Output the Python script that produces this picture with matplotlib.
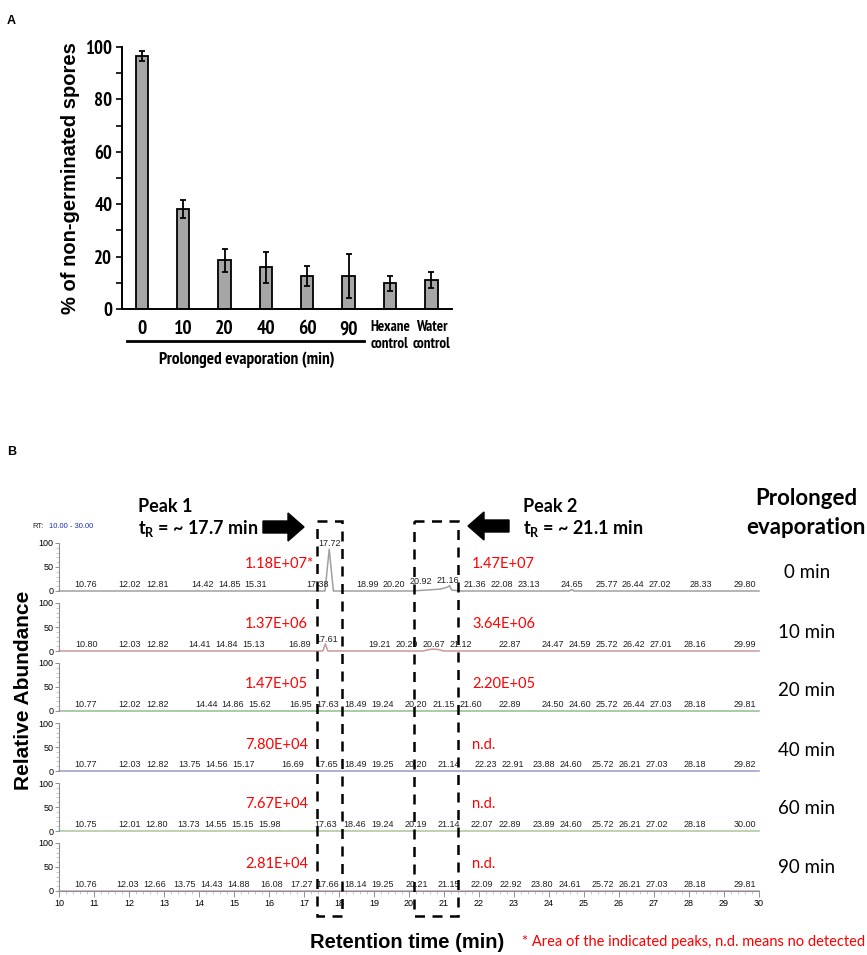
import matplotlib
matplotlib.use('Agg')
import matplotlib.pyplot as plt
from matplotlib import font_manager
from matplotlib.font_manager import FontProperties
from matplotlib.patches import Rectangle, FancyArrow
from matplotlib.ticker import MultipleLocator

plt.rcParams['mathtext.fontset'] = 'custom'
plt.rcParams['mathtext.bf'] = 'Lato:bold'
plt.rcParams['mathtext.rm'] = 'Lato'

W, H = 867, 955

# ---- panel A data ----
groups = ['0', '10', '20', '40', '60', '90', 'Hexane\ncontrol', 'Water\ncontrol']
pct_nongerm = [96.4, 38.1, 18.6, 15.9, 12.7, 12.7, 9.8, 11.2]
pct_err = [1.9, 3.5, 4.3, 5.8, 3.9, 8.4, 2.8, 3.1]

# ---- panel B data (chromatograms) ----
row_names = ['0 min', '10 min', '20 min', '40 min', '60 min', '90 min']
peak1_area = ['1.18E+07*', '1.37E+06', '1.47E+05', '7.80E+04', '7.67E+04', '2.81E+04']
peak2_area = ['1.47E+07', '3.64E+06', '2.20E+05', 'n.d.', 'n.d.', 'n.d.']

trace_rt = [
    [10.0, 17.60, 17.72, 17.84, 20.10, 20.90, 21.10, 21.16, 21.22, 21.50, 24.58, 24.65, 24.72, 30.0],
    [10.0, 17.54, 17.61, 17.68, 20.40, 20.58, 20.67, 20.85, 20.98, 30.0],
    [10.0, 30.0],
    [10.0, 30.0],
    [10.0, 30.0],
    [10.0, 30.0],
]
trace_ab = [
    [0, 0, 87, 0, 0, 4, 8, 11, 2, 0, 0, 3, 0, 0],
    [0, 0, 15, 0, 0, 3, 4, 3, 0, 0],
    [0, 0],
    [0, 0],
    [0, 0],
    [0, 0],
]
trace_colors = ['#a0a0a0', '#c99a9a', '#8fbf8f', '#9a9acc', '#a8c89a', '#c4a4c4']

peak_labels = [
    ['10.76', '12.02', '12.81', '14.42', '14.85', '15.31', '17.38', '17.72', '18.99', '20.20', '20.92',
     '21.16', '21.36', '22.08', '23.13', '24.65', '25.77', '26.44', '27.02', '28.33', '29.80'],
    ['10.80', '12.03', '12.82', '14.41', '14.84', '15.13', '16.89', '17.61', '19.21', '20.29', '20.67',
     '21.12', '22.87', '24.47', '24.59', '25.72', '26.42', '27.01', '28.16', '29.99'],
    ['10.77', '12.02', '12.82', '14.44', '14.86', '15.62', '16.95', '17.63', '18.49', '19.24', '20.20',
     '21.15', '21.60', '22.89', '24.50', '24.60', '25.72', '26.44', '27.03', '28.18', '29.81'],
    ['10.77', '12.03', '12.82', '13.75', '14.56', '15.17', '16.69', '17.65', '18.49', '19.25', '20.20',
     '21.14', '22.23', '22.91', '23.88', '24.60', '25.72', '26.21', '27.03', '28.18', '29.82'],
    ['10.75', '12.01', '12.80', '13.73', '14.55', '15.15', '15.98', '17.63', '18.46', '19.24', '20.19',
     '21.14', '22.07', '22.89', '23.89', '24.60', '25.72', '26.21', '27.02', '28.18', '30.00'],
    ['10.76', '12.03', '12.66', '13.75', '14.43', '14.88', '16.08', '17.27', '17.66', '18.14', '19.25',
     '20.21', '21.15', '22.09', '22.92', '23.80', '24.61', '25.72', '26.21', '27.03', '28.18', '29.81'],
]
# labels drawn at the top of a peak instead of on the baseline row
apex_labels = {(0, '17.72'): 89}
raised_labels = {(1, '17.61'): 14, (0, '20.92'): 10, (0, '21.16'): 12}


def box(l, t, r, b):
    return [l / W, 1 - b / H, (r - l) / W, (b - t) / H]


def spread(xs, gap, lo, hi):
    # push neighbouring labels apart so they do not overlap (like the instrument software does)
    xs = list(xs)
    for _ in range(400):
        moved = False
        for j in range(len(xs) - 1):
            d = xs[j + 1] - xs[j]
            if d < gap - 1e-6:
                s = (gap - d) / 2
                xs[j] -= s
                xs[j + 1] += s
                moved = True
        xs = [min(max(v, lo), hi) for v in xs]
        if not moved:
            break
    return xs


# pick the narrowest sensible bold face for panel A (reference uses Arial Narrow Bold)
def cond_rank(f):
    key = (f.fname + ' ' + f.name).replace(' ', '').lower()
    if 'italic' in key or 'oblique' in key:
        return None
    if f.weight not in (700, 'bold'):
        return None
    if 'narrow' in key:
        return 0
    if 'semicondensed' in key or 'semicond' in key:
        return 3
    if 'extracondensed' in key or 'ultracondensed' in key:
        return 2
    if 'condensed' in key:
        return 1
    return None


cands = [(cond_rank(f), f.fname) for f in font_manager.fontManager.ttflist if cond_rank(f) is not None]
cands.sort()
if cands:
    mk = lambda s: FontProperties(fname=cands[0][1], size=s)
else:
    mk = lambda s: FontProperties(family='Liberation Sans', weight='bold', size=s)
fp_tick = mk(13)
fp_num = mk(13)
fp_ctrl = mk(12.5)
fp_title = mk(13.5)

fig = plt.figure(figsize=(W / 100, H / 100), dpi=100)
renderer = fig.canvas.get_renderer()


def fit_width(fp, sample, target_px, max_pt):
    t = fig.text(0, 0, sample, fontproperties=fp)
    w = t.get_window_extent(renderer).width
    t.remove()
    fp.set_size(min(max_pt, fp.get_size() * target_px / w))


fit_width(fp_tick, '100', 27, 14)
fit_width(fp_num, '100', 28, 14)
fit_width(fp_ctrl, 'Hexane', 40, 13)
fit_width(fp_title, 'Prolonged evaporation (min)', 176, 14)

arial = ['Liberation Sans', 'DejaVu Sans']
cal = ['Lato', 'DejaVu Sans']

# ================= Panel A =================
axA = fig.add_axes(box(122, 47, 452, 309))
xpos = list(range(len(groups)))
axA.bar(xpos, pct_nongerm, width=0.3, color='#a6a6a6', edgecolor='black', linewidth=1.3,
        yerr=pct_err, capsize=2.2, error_kw=dict(elinewidth=1.3, capthick=1.3, ecolor='black'))
axA.set_xlim(-0.48, 7.5)
axA.set_ylim(0, 100)
for s in ['top', 'right']:
    axA.spines[s].set_visible(False)
axA.spines['left'].set_linewidth(1.4)
axA.spines['bottom'].set_linewidth(1.4)
axA.yaxis.set_major_locator(MultipleLocator(20))
axA.yaxis.set_minor_locator(MultipleLocator(10))
axA.tick_params(axis='y', which='both', direction='out', length=4, width=1.2, pad=3)
axA.tick_params(axis='x', length=0, pad=8)
axA.set_xticks(xpos)
axA.set_xticklabels(groups, linespacing=1.25)
for lab, g in zip(axA.get_xticklabels(), groups):
    lab.set_fontproperties(fp_ctrl if '\n' in g else fp_num)
axA.set_yticks([0, 20, 40, 60, 80, 100])
axA.set_yticklabels(['0', '20', '40', '60', '80', '100'], fontproperties=fp_tick)
axA.set_ylabel('% of non-germinated spores', family=arial, fontweight='bold', fontsize=14.5, va='center')
axA.yaxis.set_label_coords(-0.155, 0.5)
tr = axA.get_xaxis_transform()
axA.plot([-0.36, 5.37], [-0.122, -0.122], color='black', lw=2, transform=tr, clip_on=False)
axA.text(2.54, -0.195, 'Prolonged evaporation (min)', transform=tr, ha='center', va='center',
         fontproperties=fp_title)

# ================= Panel B =================
zero_px = [591, 651, 711, 771, 831, 891]
for i in range(6):
    ax = fig.add_axes(box(59, zero_px[i] - 48, 759, zero_px[i]))
    ax.patch.set_alpha(0)
    ax.plot(trace_rt[i], trace_ab[i], color=trace_colors[i], lw=1.1, clip_on=False)
    ax.set_xlim(10, 30)
    ax.set_ylim(0, 100)
    for s in ['top', 'right']:
        ax.spines[s].set_visible(False)
    ax.spines['left'].set_color('#909090')
    ax.spines['left'].set_linewidth(0.8)
    ax.set_yticks([0, 50, 100])
    ax.set_yticklabels(['0', '50', '100'], family=arial, fontsize=6.5)
    ax.yaxis.set_minor_locator(MultipleLocator(10))
    ax.tick_params(axis='y', which='major', length=3, width=0.7, color='#909090', pad=1)
    ax.tick_params(axis='y', which='minor', length=2, width=0.5, color='#b0b0b0')
    if i < 5:
        ax.spines['bottom'].set_visible(False)
        ax.set_xticks([])
    else:
        ax.spines['bottom'].set_color('#909090')
        ax.spines['bottom'].set_linewidth(0.8)
        ax.xaxis.set_major_locator(MultipleLocator(1))
        ax.xaxis.set_minor_locator(MultipleLocator(0.2))
        ax.tick_params(axis='x', which='major', length=4, width=0.7, color='#909090', pad=2,
                       labelsize=6.5)
        ax.tick_params(axis='x', which='minor', length=2, width=0.5, color='#b0b0b0')
        for lab in ax.get_xticklabels():
            lab.set_family(arial)
    base = [lab for lab in peak_labels[i] if (i, lab) not in apex_labels]
    xs = spread([float(lab) for lab in base], 0.77, 10.3, 29.6)
    for lab, xv in zip(base, xs):
        yv = raised_labels.get((i, lab), 5)
        ax.text(xv, yv, lab, ha='center', va='bottom', fontsize=6.5, family=arial,
                color='#202020', clip_on=False)
    for (ri, lab), yv in apex_labels.items():
        if ri == i:
            ax.text(float(lab), yv, lab, ha='center', va='bottom', fontsize=6.5, family=arial,
                    color='#202020', clip_on=False)

# ---- overlay in pixel coordinates ----
ov = fig.add_axes([0, 0, 1, 1])
ov.set_xlim(0, W)
ov.set_ylim(H, 0)
ov.axis('off')
ov.patch.set_alpha(0)

ov.text(7, 21, 'A', family=arial, fontweight='bold', fontsize=9, va='center', ha='left')
ov.text(7, 452, 'B', family=arial, fontweight='bold', fontsize=9, va='center', ha='left')

ov.text(32, 526, 'RT:', family=arial, fontsize=5.5, va='center', ha='left', color='#202020')
ov.text(49, 526, '10.00 - 30.00', family=arial, fontsize=5.5, va='center', ha='left', color='#1f2fa8')

ov.text(138, 506, 'Peak 1', family=cal, fontweight='bold', fontsize=13, va='center', ha='left')
ov.text(138, 528, r'$\mathbf{t_R}$ = ~ 17.7 min', family=cal, fontweight='bold', fontsize=13,
        va='center', ha='left')
ov.text(523, 506, 'Peak 2', family=cal, fontweight='bold', fontsize=13, va='center', ha='left')
ov.text(523, 528, r'$\mathbf{t_R}$ = ~ 21.1 min', family=cal, fontweight='bold', fontsize=13,
        va='center', ha='left')

ov.add_patch(FancyArrow(263, 527, 25, 0, width=12, head_width=28, head_length=16,
                        length_includes_head=False, color='black'))
ov.add_patch(FancyArrow(509, 526, -25, 0, width=12, head_width=28, head_length=16,
                        length_includes_head=False, color='black'))

dash = (0, (4, 3))
ov.add_patch(Rectangle((317, 521), 25, 395, fill=False, lw=1.8, ls=dash, ec='black'))
ov.add_patch(Rectangle((414, 521), 44, 395, fill=False, lw=1.8, ls=dash, ec='black'))

ov.text(806, 498, 'Prolonged', family=cal, fontweight='bold', fontsize=16, va='center', ha='center')
ov.text(806, 527, 'evaporation', family=cal, fontweight='bold', fontsize=16, va='center', ha='center')

row_label_y = [572, 632, 690, 750, 808, 867]
red_y = [564, 624, 684, 745, 804, 864]
for i in range(6):
    ov.text(807, row_label_y[i], row_names[i], family=cal, fontsize=13.5, va='center', ha='center')
    ov.text(245, red_y[i], peak1_area[i], family=cal, fontsize=10.5, color='red', va='center', ha='left')
    ov.text(472, red_y[i], peak2_area[i], family=cal, fontsize=10.5, color='red', va='center', ha='left')

ov.text(24, 690, 'Relative Abundance', family=arial, fontweight='bold', fontsize=15, rotation=90,
        va='center', ha='center')
ov.text(407, 942, 'Retention time (min)', family=arial, fontweight='bold', fontsize=14.5,
        va='center', ha='center')
ov.text(522, 942, '* Area of the indicated peaks, n.d. means no detected', family=cal, fontsize=10.5,
        color='red', va='center', ha='left')

fig.savefig('out.png', dpi=100)
